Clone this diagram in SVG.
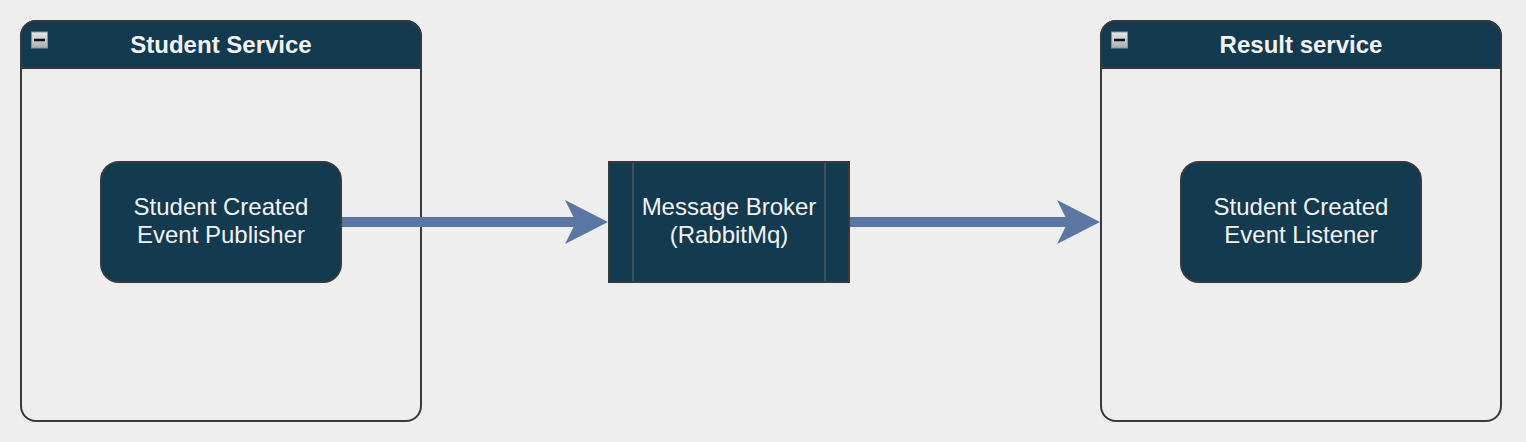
<svg xmlns="http://www.w3.org/2000/svg" width="1526" height="442" viewBox="0 0 1526 442">
<defs>
<style>
.bg{fill:#eeeeee}
.lane{fill:#eeeeee;stroke:#36393d;stroke-width:2}
.head{fill:#143a4f;stroke:#36393d;stroke-width:2}
.node{fill:#143a4f;stroke:#36393d;stroke-width:2}
.div{stroke:#4a5a66;stroke-width:1.5;fill:none}
.title{font-family:"Liberation Sans",Arial,sans-serif;font-weight:bold;font-size:24px;fill:#f2f2f2;text-anchor:middle}
.label{font-family:"Liberation Sans",Arial,sans-serif;font-size:24px;fill:#f2f2f2;text-anchor:middle}
.edge{stroke:#5a76a2;stroke-width:10;fill:none}
.head-arrow{fill:#5a76a2}
.fold{fill:url(#foldGrad);stroke:#8a8f94;stroke-width:1}
.minus{stroke:#111;stroke-width:2.5}
</style>
<linearGradient id="foldGrad" x1="0" y1="0" x2="0" y2="1">
<stop offset="0" stop-color="#e6e8ea"/>
<stop offset="1" stop-color="#a9aeb3"/>
</linearGradient>
</defs>
<rect class="bg" x="0" y="0" width="1526" height="442"/>

<g id="student-service">
<rect class="lane" x="21" y="21" width="400" height="400" rx="15" ry="15"/>
<path class="head" d="M21,68 L21,36 A15,15 0 0 1 36,21 L406,21 A15,15 0 0 1 421,36 L421,68 Z"/>
<rect class="fold" x="31.5" y="32" width="16" height="16"/>
<line class="minus" x1="34" y1="40" x2="45" y2="40"/>
<text class="title" x="221" y="53">Student Service</text>
</g>

<g id="result-service">
<rect class="lane" x="1101" y="21" width="400" height="400" rx="15" ry="15"/>
<path class="head" d="M1101,68 L1101,36 A15,15 0 0 1 1116,21 L1486,21 A15,15 0 0 1 1501,36 L1501,68 Z"/>
<rect class="fold" x="1111.5" y="32" width="16" height="16"/>
<line class="minus" x1="1114" y1="40" x2="1125" y2="40"/>
<text class="title" x="1301" y="53">Result service</text>
</g>

<g id="publisher">
<rect class="node" x="101" y="162" width="240" height="120" rx="18" ry="18"/>
<text class="label" x="221" y="215">Student Created</text>
<text class="label" x="221" y="243">Event Publisher</text>
</g>

<g id="broker">
<rect class="node" x="609" y="162" width="240" height="120"/>
<line class="div" x1="633" y1="163" x2="633" y2="281"/>
<line class="div" x1="825" y1="163" x2="825" y2="281"/>
<text class="label" x="729" y="215">Message Broker</text>
<text class="label" x="729" y="243">(RabbitMq)</text>
</g>

<g id="listener">
<rect class="node" x="1181" y="162" width="240" height="120" rx="18" ry="18"/>
<text class="label" x="1301" y="215">Student Created</text>
<text class="label" x="1301" y="243">Event Listener</text>
</g>

<g id="connectors">
<line class="edge" x1="342" y1="222" x2="578" y2="222"/>
<path class="head-arrow" d="M608,222 L565,200 L576,222 L565,244 Z"/>
<line class="edge" x1="850" y1="222" x2="1070" y2="222"/>
<path class="head-arrow" d="M1100,222 L1057,200 L1068,222 L1057,244 Z"/>
</g>
</svg>
